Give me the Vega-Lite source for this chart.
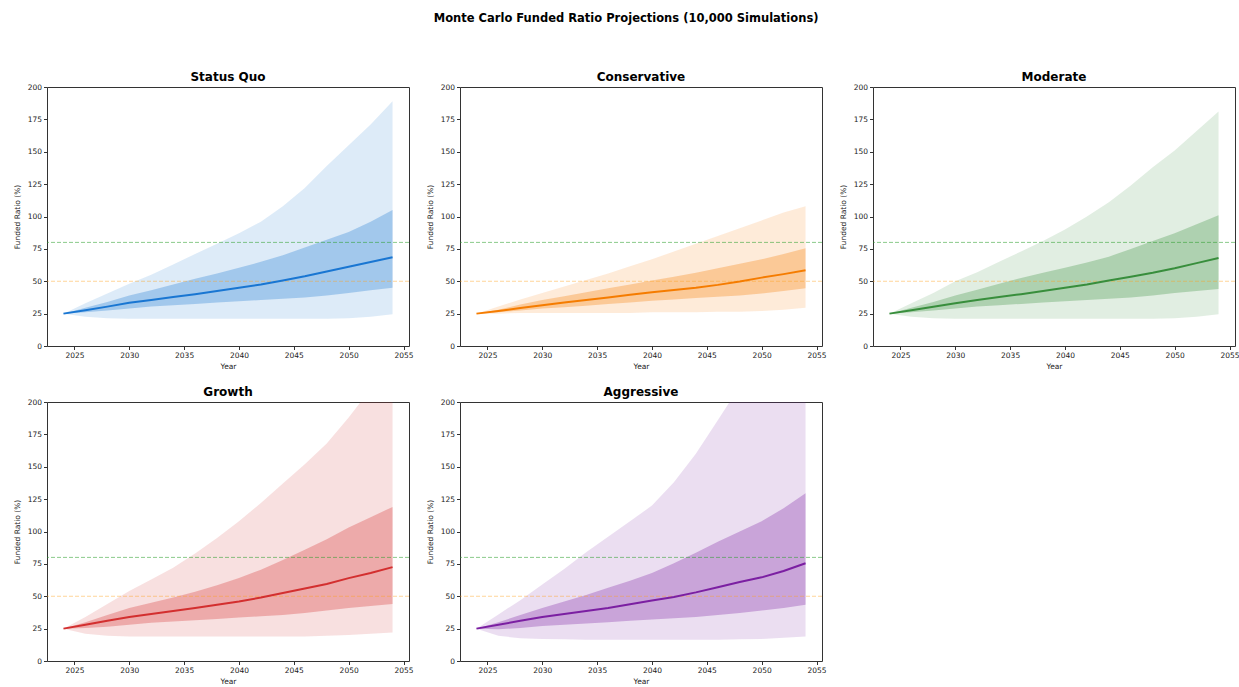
{
  "$schema": "https://vega.github.io/schema/vega-lite/v6.json",
  "padding": {"left": 12, "top": 13, "right": 2, "bottom": 2},
  "background": "white",
  "title": {
    "text": "Monte Carlo Funded Ratio Projections (10,000 Simulations)",
    "font": "DejaVu Sans",
    "fontSize": 11.5,
    "fontWeight": "bold",
    "color": "#000000",
    "anchor": "middle",
    "offset": 46
  },
  "data": {
    "values": [
      {"scenario": "Status Quo", "year": 2024, "p5": 25, "p25": 25, "p50": 25, "p75": 25, "p95": 25},
      {"scenario": "Status Quo", "year": 2026, "p5": 22.5, "p25": 26, "p50": 27.6, "p75": 29.5, "p95": 33},
      {"scenario": "Status Quo", "year": 2028, "p5": 21.5, "p25": 27.5, "p50": 30.4, "p75": 34, "p95": 40.5},
      {"scenario": "Status Quo", "year": 2030, "p5": 21, "p25": 29, "p50": 33.4, "p75": 39, "p95": 48},
      {"scenario": "Status Quo", "year": 2032, "p5": 21, "p25": 30.5, "p50": 35.6, "p75": 43, "p95": 55},
      {"scenario": "Status Quo", "year": 2034, "p5": 21, "p25": 31.5, "p50": 37.8, "p75": 47.5, "p95": 63},
      {"scenario": "Status Quo", "year": 2036, "p5": 21, "p25": 32.5, "p50": 40, "p75": 52, "p95": 71},
      {"scenario": "Status Quo", "year": 2038, "p5": 21, "p25": 33.5, "p50": 42.4, "p75": 56, "p95": 79},
      {"scenario": "Status Quo", "year": 2040, "p5": 21, "p25": 34.5, "p50": 45, "p75": 60.5, "p95": 87},
      {"scenario": "Status Quo", "year": 2042, "p5": 21, "p25": 35.5, "p50": 47.5, "p75": 65, "p95": 96},
      {"scenario": "Status Quo", "year": 2044, "p5": 21, "p25": 36.5, "p50": 50.5, "p75": 70, "p95": 108},
      {"scenario": "Status Quo", "year": 2046, "p5": 21, "p25": 37.5, "p50": 53.8, "p75": 76, "p95": 122},
      {"scenario": "Status Quo", "year": 2048, "p5": 21, "p25": 39, "p50": 57.5, "p75": 82, "p95": 139},
      {"scenario": "Status Quo", "year": 2050, "p5": 21.5, "p25": 41, "p50": 61.2, "p75": 88, "p95": 155},
      {"scenario": "Status Quo", "year": 2052, "p5": 22.5, "p25": 43, "p50": 64.8, "p75": 96, "p95": 171},
      {"scenario": "Status Quo", "year": 2054, "p5": 24.5, "p25": 45, "p50": 68.6, "p75": 105, "p95": 189},

      {"scenario": "Conservative", "year": 2024, "p5": 25, "p25": 25, "p50": 25, "p75": 25, "p95": 25},
      {"scenario": "Conservative", "year": 2026, "p5": 25, "p25": 26, "p50": 27, "p75": 28, "p95": 30.5},
      {"scenario": "Conservative", "year": 2028, "p5": 25.5, "p25": 27.5, "p50": 29.3, "p75": 32, "p95": 36},
      {"scenario": "Conservative", "year": 2030, "p5": 25.5, "p25": 29, "p50": 31.5, "p75": 35.5, "p95": 41},
      {"scenario": "Conservative", "year": 2032, "p5": 25.5, "p25": 30, "p50": 33.5, "p75": 38.5, "p95": 46},
      {"scenario": "Conservative", "year": 2034, "p5": 25.5, "p25": 31, "p50": 35.5, "p75": 41.5, "p95": 51},
      {"scenario": "Conservative", "year": 2036, "p5": 25.5, "p25": 32.5, "p50": 37.5, "p75": 44.5, "p95": 56},
      {"scenario": "Conservative", "year": 2038, "p5": 25.5, "p25": 33.5, "p50": 39.5, "p75": 47.5, "p95": 61.5},
      {"scenario": "Conservative", "year": 2040, "p5": 26, "p25": 35, "p50": 41.5, "p75": 50.5, "p95": 67},
      {"scenario": "Conservative", "year": 2042, "p5": 26, "p25": 36, "p50": 43.3, "p75": 53.5, "p95": 73},
      {"scenario": "Conservative", "year": 2044, "p5": 26, "p25": 37, "p50": 45, "p75": 56.5, "p95": 79},
      {"scenario": "Conservative", "year": 2046, "p5": 26.5, "p25": 38, "p50": 47.2, "p75": 60, "p95": 85},
      {"scenario": "Conservative", "year": 2048, "p5": 26.5, "p25": 39, "p50": 49.8, "p75": 63.5, "p95": 91},
      {"scenario": "Conservative", "year": 2050, "p5": 27, "p25": 40.5, "p50": 52.8, "p75": 67, "p95": 97},
      {"scenario": "Conservative", "year": 2052, "p5": 28, "p25": 42.5, "p50": 55.5, "p75": 71, "p95": 103},
      {"scenario": "Conservative", "year": 2054, "p5": 29.5, "p25": 44.5, "p50": 58.5, "p75": 75.5, "p95": 108},

      {"scenario": "Moderate", "year": 2024, "p5": 25, "p25": 25, "p50": 25, "p75": 25, "p95": 25},
      {"scenario": "Moderate", "year": 2026, "p5": 22.5, "p25": 26, "p50": 27.6, "p75": 29.5, "p95": 33},
      {"scenario": "Moderate", "year": 2028, "p5": 21.5, "p25": 27.5, "p50": 30.3, "p75": 34, "p95": 41},
      {"scenario": "Moderate", "year": 2030, "p5": 21, "p25": 29, "p50": 33, "p75": 39, "p95": 50},
      {"scenario": "Moderate", "year": 2032, "p5": 21, "p25": 30.5, "p50": 35.5, "p75": 43.5, "p95": 57},
      {"scenario": "Moderate", "year": 2034, "p5": 21, "p25": 31.5, "p50": 37.8, "p75": 48, "p95": 65},
      {"scenario": "Moderate", "year": 2036, "p5": 21, "p25": 32.5, "p50": 40, "p75": 52.5, "p95": 73},
      {"scenario": "Moderate", "year": 2038, "p5": 21, "p25": 33.5, "p50": 42.4, "p75": 56.5, "p95": 81},
      {"scenario": "Moderate", "year": 2040, "p5": 21, "p25": 34.5, "p50": 45, "p75": 60.5, "p95": 90},
      {"scenario": "Moderate", "year": 2042, "p5": 21, "p25": 35.5, "p50": 47.5, "p75": 64.5, "p95": 100},
      {"scenario": "Moderate", "year": 2044, "p5": 21, "p25": 36.5, "p50": 50.5, "p75": 69, "p95": 111},
      {"scenario": "Moderate", "year": 2046, "p5": 21, "p25": 37.5, "p50": 53.5, "p75": 75, "p95": 124},
      {"scenario": "Moderate", "year": 2048, "p5": 21, "p25": 39, "p50": 56.5, "p75": 81, "p95": 138},
      {"scenario": "Moderate", "year": 2050, "p5": 21.5, "p25": 41, "p50": 60, "p75": 87, "p95": 151},
      {"scenario": "Moderate", "year": 2052, "p5": 22.5, "p25": 42.5, "p50": 64, "p75": 94, "p95": 166},
      {"scenario": "Moderate", "year": 2054, "p5": 24.5, "p25": 44, "p50": 68, "p75": 101, "p95": 181},

      {"scenario": "Growth", "year": 2024, "p5": 25, "p25": 25, "p50": 25, "p75": 25, "p95": 25},
      {"scenario": "Growth", "year": 2026, "p5": 21, "p25": 25.5, "p50": 28, "p75": 30, "p95": 34},
      {"scenario": "Growth", "year": 2028, "p5": 19.5, "p25": 26.5, "p50": 31, "p75": 35.5, "p95": 44},
      {"scenario": "Growth", "year": 2030, "p5": 19, "p25": 28, "p50": 34, "p75": 41, "p95": 54},
      {"scenario": "Growth", "year": 2032, "p5": 19, "p25": 29.5, "p50": 36.3, "p75": 45, "p95": 63},
      {"scenario": "Growth", "year": 2034, "p5": 19, "p25": 30.5, "p50": 38.6, "p75": 49, "p95": 72},
      {"scenario": "Growth", "year": 2036, "p5": 19, "p25": 31.5, "p50": 41, "p75": 53.5, "p95": 83},
      {"scenario": "Growth", "year": 2038, "p5": 19, "p25": 32.5, "p50": 43.5, "p75": 58.5, "p95": 95},
      {"scenario": "Growth", "year": 2040, "p5": 19, "p25": 33.5, "p50": 46, "p75": 64, "p95": 108},
      {"scenario": "Growth", "year": 2042, "p5": 19, "p25": 34.5, "p50": 49, "p75": 70.5, "p95": 122},
      {"scenario": "Growth", "year": 2044, "p5": 19, "p25": 35.5, "p50": 52.5, "p75": 78, "p95": 137},
      {"scenario": "Growth", "year": 2046, "p5": 19, "p25": 37, "p50": 56, "p75": 86, "p95": 152},
      {"scenario": "Growth", "year": 2048, "p5": 19.5, "p25": 39, "p50": 59.5, "p75": 94, "p95": 168},
      {"scenario": "Growth", "year": 2050, "p5": 20, "p25": 41, "p50": 64, "p75": 103, "p95": 188},
      {"scenario": "Growth", "year": 2052, "p5": 21, "p25": 42.5, "p50": 68, "p75": 111, "p95": 210},
      {"scenario": "Growth", "year": 2054, "p5": 22, "p25": 44, "p50": 72.5, "p75": 119, "p95": 232},

      {"scenario": "Aggressive", "year": 2024, "p5": 25, "p25": 25, "p50": 25, "p75": 25, "p95": 25},
      {"scenario": "Aggressive", "year": 2026, "p5": 19.5, "p25": 24.5, "p50": 28, "p75": 30, "p95": 36},
      {"scenario": "Aggressive", "year": 2028, "p5": 17.5, "p25": 25.5, "p50": 31, "p75": 35.5, "p95": 47},
      {"scenario": "Aggressive", "year": 2030, "p5": 17, "p25": 27, "p50": 34, "p75": 41, "p95": 59},
      {"scenario": "Aggressive", "year": 2032, "p5": 16.8, "p25": 28, "p50": 36.3, "p75": 46, "p95": 71},
      {"scenario": "Aggressive", "year": 2034, "p5": 16.5, "p25": 29, "p50": 38.6, "p75": 51, "p95": 84},
      {"scenario": "Aggressive", "year": 2036, "p5": 16.5, "p25": 30, "p50": 41, "p75": 56.5, "p95": 96},
      {"scenario": "Aggressive", "year": 2038, "p5": 16.5, "p25": 31, "p50": 43.8, "p75": 62, "p95": 108},
      {"scenario": "Aggressive", "year": 2040, "p5": 16.5, "p25": 32, "p50": 46.7, "p75": 68, "p95": 120},
      {"scenario": "Aggressive", "year": 2042, "p5": 16.5, "p25": 33, "p50": 49.5, "p75": 75.5, "p95": 138},
      {"scenario": "Aggressive", "year": 2044, "p5": 16.5, "p25": 34, "p50": 53, "p75": 83.5, "p95": 160},
      {"scenario": "Aggressive", "year": 2046, "p5": 16.5, "p25": 35.5, "p50": 57, "p75": 92, "p95": 186},
      {"scenario": "Aggressive", "year": 2048, "p5": 16.7, "p25": 37, "p50": 61, "p75": 100, "p95": 212},
      {"scenario": "Aggressive", "year": 2050, "p5": 17, "p25": 39, "p50": 64.6, "p75": 108, "p95": 240},
      {"scenario": "Aggressive", "year": 2052, "p5": 18, "p25": 41, "p50": 69.5, "p75": 118, "p95": 270},
      {"scenario": "Aggressive", "year": 2054, "p5": 19, "p25": 43.5, "p50": 75.5, "p75": 129.5, "p95": 300}
    ]
  },
  "facet": {
    "field": "scenario",
    "type": "nominal",
    "sort": ["Status Quo", "Conservative", "Moderate", "Growth", "Aggressive"],
    "header": {
      "title": null,
      "labelFont": "DejaVu Sans",
      "labelFontSize": 12,
      "labelFontWeight": "bold",
      "labelColor": "#000000",
      "labelPadding": -1
    }
  },
  "columns": 3,
  "bounds": "flush",
  "spacing": {"column": 51, "row": 56},
  "resolve": {"axis": {"x": "independent", "y": "independent"}},
  "spec": {
    "width": 362,
    "height": 259,
    "encoding": {
      "x": {
        "field": "year",
        "type": "quantitative",
        "title": "Year",
        "scale": {"domain": [2022.5, 2055.5], "nice": false, "zero": false},
        "axis": {"values": [2025, 2030, 2035, 2040, 2045, 2050, 2055], "format": "d"}
      },
      "color": {
        "field": "scenario",
        "type": "nominal",
        "scale": {
          "domain": ["Status Quo", "Conservative", "Moderate", "Growth", "Aggressive"],
          "range": ["#1976D2", "#F57C00", "#388E3C", "#D32F2F", "#7B1FA2"]
        },
        "legend": null
      }
    },
    "layer": [
      {
        "mark": {"type": "area", "opacity": 0.15, "clip": true},
        "encoding": {
          "y": {
            "field": "p5",
            "type": "quantitative",
            "title": "Funded Ratio (%)",
            "scale": {"domain": [0, 200], "nice": false},
            "axis": {"values": [0, 25, 50, 75, 100, 125, 150, 175, 200], "labelOverlap": false}
          },
          "y2": {"field": "p95"}
        }
      },
      {
        "mark": {"type": "area", "opacity": 0.3, "clip": true},
        "encoding": {
          "y": {
            "field": "p25",
            "type": "quantitative",
            "title": "Funded Ratio (%)",
            "axis": {"values": [0, 25, 50, 75, 100, 125, 150, 175, 200], "labelOverlap": false}
          },
          "y2": {"field": "p75"}
        }
      },
      {
        "transform": [{"filter": "datum.year == 2024"}],
        "mark": {"type": "rule", "stroke": "#2ca02c", "strokeDash": [4, 2], "strokeWidth": 1, "opacity": 0.55},
        "encoding": {
          "y": {"datum": 80, "type": "quantitative", "title": "Funded Ratio (%)", "axis": {"values": [0, 25, 50, 75, 100, 125, 150, 175, 200], "labelOverlap": false}},
          "x": null,
          "color": null
        }
      },
      {
        "transform": [{"filter": "datum.year == 2024"}],
        "mark": {"type": "rule", "stroke": "#ff9f1c", "strokeDash": [4, 2], "strokeWidth": 1, "opacity": 0.45},
        "encoding": {
          "y": {"datum": 50, "type": "quantitative", "title": "Funded Ratio (%)", "axis": {"values": [0, 25, 50, 75, 100, 125, 150, 175, 200], "labelOverlap": false}},
          "x": null,
          "color": null
        }
      },
      {
        "mark": {"type": "line", "strokeWidth": 2, "clip": true},
        "encoding": {
          "y": {
            "field": "p50",
            "type": "quantitative",
            "title": "Funded Ratio (%)",
            "axis": {"values": [0, 25, 50, 75, 100, 125, 150, 175, 200], "labelOverlap": false}
          }
        }
      }
    ]
  },
  "config": {
    "font": "DejaVu Sans",
    "view": {"stroke": "#333333", "strokeWidth": 1},
    "axis": {
      "grid": false,
      "domain": false,
      "labelFont": "DejaVu Sans",
      "labelFontSize": 7.5,
      "labelColor": "#222222",
      "labelOverlap": false,
      "titleFont": "DejaVu Sans",
      "titleFontSize": 7.5,
      "titleFontWeight": "normal",
      "titleColor": "#222222",
      "tickColor": "#333333",
      "tickSize": 3.5,
      "labelPadding": 2
    },
    "axisY": {"titlePadding": 6},
    "axisX": {"titlePadding": 3}
  }
}
